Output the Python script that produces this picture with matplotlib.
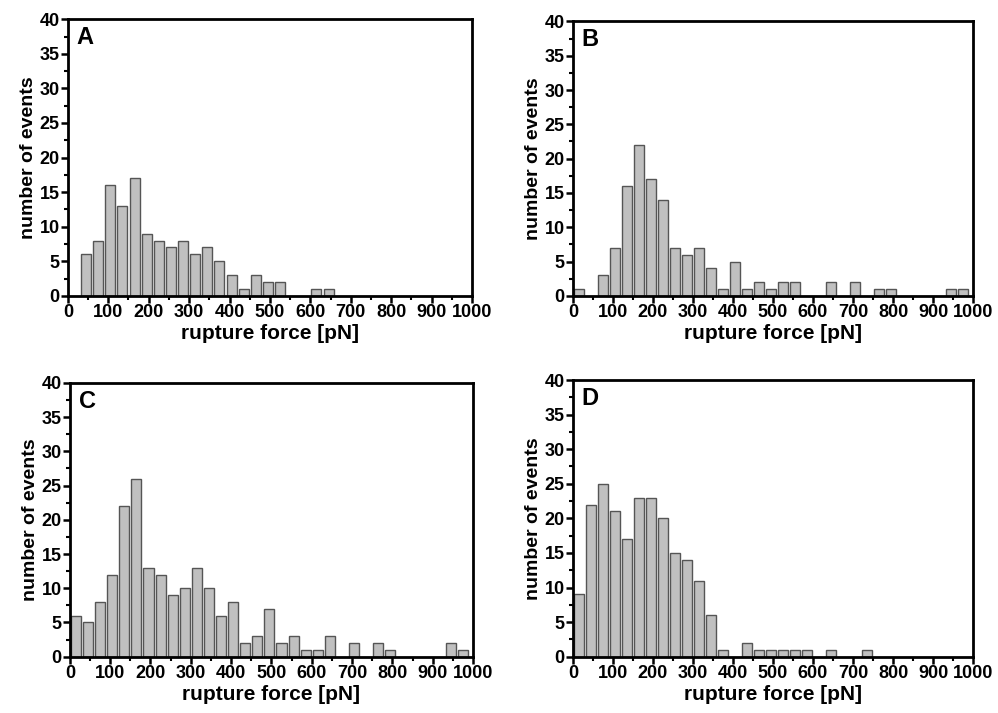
"""
Rupture force histograms, four panels (A-D)
"""

import matplotlib.pyplot as plt
from matplotlib.ticker import MultipleLocator

plt.rcParams['font.family'] = ['Liberation Sans', 'DejaVu Sans']
plt.rcParams['font.weight'] = 'bold'

# bin centres in pN (30 pN bins) and counts per panel
centers_a = [45, 75, 105, 135, 165, 195, 225, 255, 285, 315, 345, 375, 405, 435, 465, 495, 525, 615, 645]
counts_a = [6, 8, 16, 13, 17, 9, 8, 7, 8, 6, 7, 5, 3, 1, 3, 2, 2, 1, 1]

centers_b = [15, 75, 105, 135, 165, 195, 225, 255, 285, 315, 345, 375, 405, 435, 465, 495, 525, 555,
             645, 705, 765, 795, 945, 975]
counts_b = [1, 3, 7, 16, 22, 17, 14, 7, 6, 7, 4, 1, 5, 1, 2, 1, 2, 2, 2, 2, 1, 1, 1, 1]

centers_c = [15, 45, 75, 105, 135, 165, 195, 225, 255, 285, 315, 345, 375, 405, 435, 465, 495, 525,
             555, 585, 615, 645, 705, 765, 795, 945, 975]
counts_c = [6, 5, 8, 12, 22, 26, 13, 12, 9, 10, 13, 10, 6, 8, 2, 3, 7, 2, 3, 1, 1, 3, 2, 2, 1, 2, 1]

centers_d = [15, 45, 75, 105, 135, 165, 195, 225, 255, 285, 315, 345, 375, 435, 465, 495, 525,
             555, 585, 645, 735]
counts_d = [9, 22, 25, 21, 17, 23, 23, 20, 15, 14, 11, 6, 1, 2, 1, 1, 1, 1, 1, 1, 1]

panels = [
    ('A', centers_a, counts_a, [0.068, 0.585, 0.405, 0.388]),
    ('B', centers_b, counts_b, [0.574, 0.585, 0.401, 0.385]),
    ('C', centers_c, counts_c, [0.070, 0.079, 0.404, 0.384]),
    ('D', centers_d, counts_d, [0.574, 0.079, 0.401, 0.388]),
]

fig = plt.figure(figsize=(9.98, 7.13), dpi=100)

for label, centers, counts, rect in panels:
    ax = fig.add_axes(rect)
    ax.bar(centers, counts, width=25, color='#c0c0c0', edgecolor='#555555', linewidth=1.0)
    ax.set_xlim(0, 1000)
    ax.set_ylim(0, 40)
    ax.xaxis.set_major_locator(MultipleLocator(100))
    ax.xaxis.set_minor_locator(MultipleLocator(50))
    ax.yaxis.set_major_locator(MultipleLocator(5))
    ax.yaxis.set_minor_locator(MultipleLocator(2.5))
    ax.tick_params(which='major', direction='out', length=5, width=1.8, labelsize=13, pad=1)
    ax.tick_params(which='minor', direction='out', length=3, width=1.5)
    for sp in ax.spines.values():
        sp.set_linewidth(2)
    for t in ax.get_xticklabels() + ax.get_yticklabels():
        t.set_fontweight('bold')
    ax.set_xlabel('rupture force [pN]', fontsize=15, fontweight='bold', labelpad=2)
    ax.set_ylabel('number of events', fontsize=14, fontweight='bold', labelpad=2)
    ax.text(0.022, 0.975, label, transform=ax.transAxes, ha='left', va='top',
            fontsize=17, fontweight='bold')

fig.savefig('out.png', dpi=100)
